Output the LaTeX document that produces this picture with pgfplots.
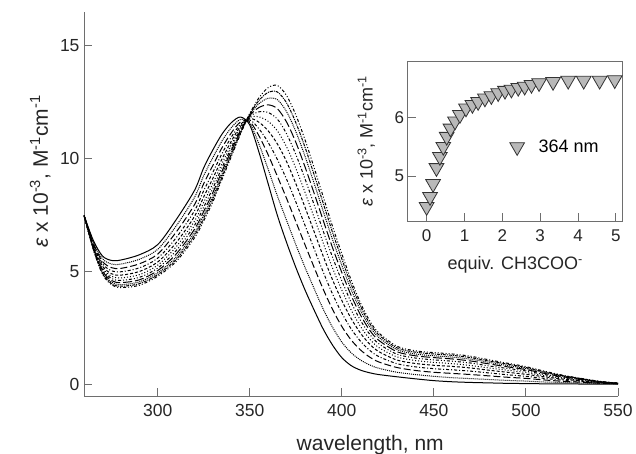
\documentclass[border=0pt]{standalone}
\usepackage{fontspec}
\setmainfont{Liberation Sans}
\usepackage{pgfplots}
\usepackage{pgfplotstable}
\pgfplotsset{compat=1.18}

\definecolor{axgray}{RGB}{110,110,110}
\definecolor{markgray}{RGB}{185,185,185}

% titration spectra, eps x 10^-3 (c0 = no acetate ... c10 = 5 equiv.)
\pgfplotstableread{
lam c0 c1 c2 c3 c4 c5 c6 c7 c8 c9 c10
260 7.50 7.50 7.50 7.50 7.50 7.50 7.50 7.50 7.50 7.50 7.50
265 6.40 6.34 6.28 6.23 6.18 6.14 6.10 6.07 6.04 6.02 6.00
270 5.70 5.58 5.46 5.36 5.26 5.18 5.11 5.04 4.99 4.94 4.90
275 5.50 5.34 5.18 5.04 4.91 4.80 4.70 4.61 4.54 4.47 4.42
280 5.52 5.34 5.15 5.00 4.85 4.73 4.62 4.52 4.43 4.36 4.30
290 5.75 5.55 5.35 5.17 5.01 4.87 4.75 4.64 4.55 4.47 4.40
300 6.20 5.99 5.78 5.60 5.43 5.29 5.16 5.05 4.95 4.87 4.80
310 7.30 7.02 6.75 6.50 6.28 6.10 5.93 5.78 5.65 5.54 5.45
320 8.60 8.29 7.97 7.70 7.45 7.24 7.05 6.88 6.73 6.61 6.50
325 9.60 9.25 8.90 8.59 8.31 8.07 7.86 7.67 7.51 7.37 7.25
330 10.40 10.06 9.71 9.41 9.14 8.91 8.70 8.51 8.35 8.22 8.10
335 11.10 10.80 10.50 10.24 10.00 9.80 9.62 9.46 9.32 9.20 9.10
340 11.60 11.38 11.15 10.96 10.78 10.63 10.49 10.37 10.27 10.18 10.10
345 11.85 11.74 11.63 11.53 11.44 11.36 11.30 11.24 11.18 11.14 11.10
350 11.50 11.58 11.65 11.72 11.78 11.83 11.87 11.91 11.95 11.98 12.00
355 10.30 10.66 11.02 11.33 11.62 11.86 12.08 12.27 12.44 12.58 12.70
360 8.90 9.54 10.18 10.73 11.24 11.66 12.05 12.39 12.68 12.94 13.15
365 7.50 8.36 9.23 9.97 10.66 11.24 11.76 12.22 12.62 12.96 13.25
370 6.30 7.28 8.25 9.10 9.88 10.53 11.11 11.63 12.09 12.48 12.80
375 5.20 6.21 7.23 8.10 8.91 9.59 10.20 10.74 11.21 11.61 11.95
380 4.20 5.20 6.20 7.06 7.86 8.52 9.12 9.65 10.12 10.52 10.85
385 3.30 4.25 5.19 6.01 6.77 7.40 7.96 8.47 8.91 9.29 9.60
390 2.45 3.33 4.21 4.97 5.67 6.25 6.78 7.25 7.66 8.01 8.30
395 1.75 2.54 3.33 4.01 4.64 5.16 5.64 6.06 6.42 6.74 7.00
400 1.20 1.89 2.58 3.18 3.73 4.19 4.60 4.97 5.29 5.57 5.80
405 0.85 1.42 1.99 2.48 2.94 3.32 3.66 3.97 4.23 4.46 4.65
410 0.65 1.10 1.55 1.94 2.30 2.60 2.87 3.11 3.32 3.50 3.65
415 0.53 0.88 1.23 1.53 1.81 2.04 2.25 2.43 2.59 2.73 2.85
420 0.45 0.73 1.01 1.25 1.47 1.65 1.82 1.97 2.10 2.21 2.30
430 0.35 0.55 0.76 0.93 1.09 1.23 1.35 1.46 1.55 1.63 1.70
440 0.26 0.45 0.63 0.79 0.94 1.07 1.18 1.28 1.36 1.44 1.50
450 0.18 0.37 0.55 0.71 0.86 0.99 1.10 1.20 1.28 1.36 1.42
460 0.13 0.31 0.50 0.66 0.81 0.93 1.04 1.14 1.22 1.30 1.36
470 0.10 0.27 0.45 0.60 0.74 0.85 0.96 1.05 1.13 1.20 1.26
480 0.08 0.23 0.39 0.52 0.64 0.74 0.83 0.92 0.99 1.05 1.10
490 0.06 0.19 0.33 0.44 0.55 0.64 0.72 0.79 0.85 0.91 0.95
500 0.05 0.16 0.28 0.37 0.46 0.54 0.61 0.67 0.72 0.76 0.80
510 0.04 0.12 0.21 0.28 0.35 0.40 0.45 0.50 0.54 0.57 0.60
520 0.04 0.10 0.15 0.20 0.25 0.29 0.32 0.35 0.38 0.40 0.42
530 0.03 0.07 0.11 0.14 0.17 0.19 0.22 0.24 0.25 0.27 0.28
540 0.03 0.05 0.07 0.08 0.10 0.11 0.12 0.13 0.14 0.14 0.15
550 0.03 0.04 0.04 0.05 0.05 0.06 0.06 0.06 0.07 0.07 0.07
}\spectra

% inset: eps at 364 nm vs equiv. acetate
\pgfplotstableread{
eq eps
0.00 4.48
0.09 4.65
0.17 4.87
0.26 5.14
0.35 5.33
0.44 5.50
0.53 5.67
0.63 5.81
0.75 5.93
0.88 6.04
1.04 6.15
1.21 6.21
1.36 6.26
1.54 6.32
1.71 6.36
1.89 6.41
2.07 6.45
2.24 6.47
2.42 6.50
2.59 6.52
2.77 6.55
2.97 6.58
3.34 6.60
3.74 6.62
4.15 6.62
4.57 6.62
4.97 6.63
}\titration

\begin{document}
\begin{tikzpicture}
\path[use as bounding box] (-84pt,-58pt) rectangle (552pt,396pt);

\begin{axis}[
    at={(0pt,0pt)}, anchor=south west,
    width=534pt, height=384pt, scale only axis,
    xmin=260, xmax=550, ymin=-0.5, ymax=16.5,
    axis lines=left, axis line style={-, axgray, line width=0.9pt},
    xtick={300,350,400,450,500,550}, ytick={0,5,10,15},
    tick align=inside, major tick length=8pt,
    tick style={axgray, line width=0.9pt},
    /pgf/number format/assume math mode=true,
    ticklabel style={font=\fontsize{17.5}{20}\selectfont, text=black!85},
    xticklabel style={yshift=-5pt},
    yticklabel style={xshift=-1pt},
    xlabel={wavelength, nm},
    ylabel={{\itshape ε} x 10\textsuperscript{-3}, M\textsuperscript{-1}cm\textsuperscript{-1}},
    label style={font=\fontsize{21}{24}\selectfont, text=black!85},
    xlabel style={at={(axis description cs:0.536,-0.128)}, anchor=center},
    ylabel style={at={(axis description cs:-0.082,0.585)}, anchor=center},
    every axis plot/.append style={black, line width=1pt, smooth, tension=0.5},
]
\addplot[solid] table[x=lam, y=c0] {\spectra};
\addplot[densely dotted] table[x=lam, y=c1] {\spectra};
\addplot[dash pattern=on 7pt off 3pt] table[x=lam, y=c2] {\spectra};
\addplot[dash dot] table[x=lam, y=c3] {\spectra};
\addplot[densely dashed] table[x=lam, y=c4] {\spectra};
\addplot[dotted] table[x=lam, y=c5] {\spectra};
\addplot[dash dot dot] table[x=lam, y=c6] {\spectra};
\addplot[dash pattern=on 9pt off 3pt] table[x=lam, y=c7] {\spectra};
\addplot[densely dotted] table[x=lam, y=c8] {\spectra};
\addplot[densely dash dot] table[x=lam, y=c9] {\spectra};
\addplot[dash dot dot] table[x=lam, y=c10] {\spectra};
\end{axis}

% block arrows
\begin{scope}[draw=axgray, fill=white, line width=0.8pt]
\filldraw (145,334) -- (154,334) -- (154,312) -- (159,312) -- (149.5,299) -- (140,312) -- (145,312) -- cycle;
\filldraw (183,331) -- (194,331) -- (194,353) -- (199,353) -- (188.5,368) -- (178,353) -- (183,353) -- cycle;
\filldraw (392,48) -- (402,48) -- (402,71) -- (408,71) -- (397,84) -- (386,71) -- (392,71) -- cycle;
\end{scope}

\begin{axis}[
    at={(323.7pt,175pt)}, anchor=south west,
    width=215pt, height=159.3pt, scale only axis,
    xmin=-0.5, xmax=5.18, ymin=4.24, ymax=6.94,
    axis background/.style={fill=white},
    axis line style={axgray, line width=0.9pt},
    xtick={0,1,2,3,4,5}, ytick={5,6},
    xtick pos=bottom, ytick pos=left,
    tick align=inside, major tick length=8pt,
    tick style={axgray, line width=0.9pt},
    /pgf/number format/assume math mode=true,
    ticklabel style={font=\fontsize{17}{20}\selectfont, text=black!85},
    xticklabel style={yshift=-5pt},
    xlabel={equiv. CH3COO\textsuperscript{-}},
    ylabel={{\itshape ε} x 10\textsuperscript{-3}, M\textsuperscript{-1}cm\textsuperscript{-1}},
    label style={font=\fontsize{18}{21}\selectfont, text=black!85},
    xlabel style={yshift=-8pt},
    ylabel style={yshift=13pt},
    legend style={at={(axis description cs:0.46,0.465)}, anchor=west,
        draw=none, fill=none, font=\fontsize{18}{21}\selectfont},
    legend cell align=left,
]
\addplot[only marks, mark=triangle*, mark size=8.5pt,
    mark options={rotate=180, fill=markgray, draw=black!80, line width=0.8pt}]
    table[x=eq, y=eps] {\titration};
\addlegendentry{\hspace{12pt}364 nm}
\end{axis}
\end{tikzpicture}
\end{document}
